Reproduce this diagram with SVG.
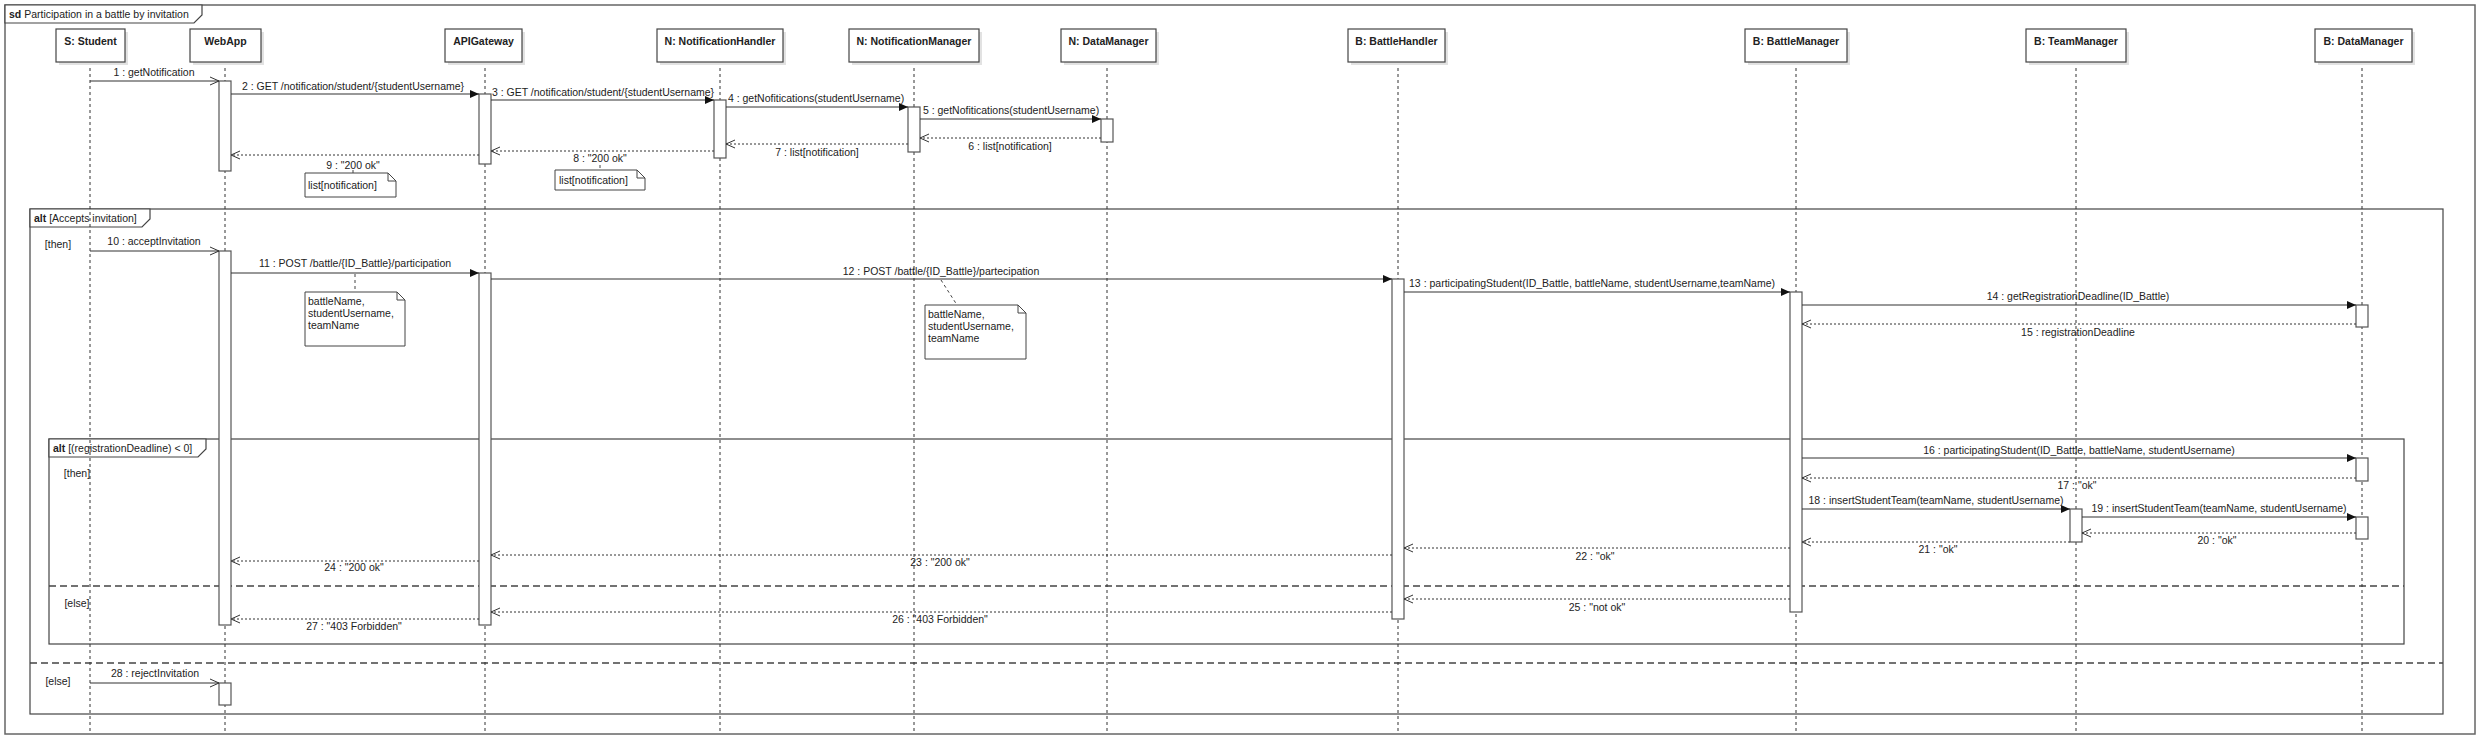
<svg xmlns="http://www.w3.org/2000/svg" width="2488" height="744" viewBox="0 0 2488 744">
<defs>
<style>
text{font-family:"Liberation Sans",Arial,sans-serif;font-size:10.5px;fill:#222}
.t{font-weight:bold;text-anchor:middle}
.m{text-anchor:middle}
.hd{fill:#fff;stroke:#444;stroke-width:1.2}
.sh{fill:#e2e2e2}
.ll{stroke:#333;stroke-width:1;stroke-dasharray:3,3;fill:none}
.act{fill:#fff;stroke:#555;stroke-width:1.2}
.sync{stroke:#333;stroke-width:1.2;fill:none;marker-end:url(#fa)}
.async{stroke:#333;stroke-width:1.2;fill:none;marker-end:url(#oa)}
.ret{stroke:#333;stroke-width:1;stroke-dasharray:2,2;fill:none;marker-end:url(#oa)}
.frm{fill:none;stroke:#444;stroke-width:1.2}
.tab{fill:#fff;stroke:#444;stroke-width:1.2}
.sep{stroke:#444;stroke-width:1.3;stroke-dasharray:7,4;fill:none}
.note{fill:#fff;stroke:#444;stroke-width:1}
.nc{stroke:#444;stroke-width:1;stroke-dasharray:3,3;fill:none}
</style>
<marker id="fa" markerWidth="10" markerHeight="10" refX="9" refY="4" orient="auto" markerUnits="userSpaceOnUse" overflow="visible"><path d="M0,0 L9,4 L0,8 Z" fill="#111"/></marker>
<marker id="oa" markerWidth="10" markerHeight="10" refX="9" refY="4" orient="auto" markerUnits="userSpaceOnUse" overflow="visible"><path d="M0,0 L9,4 L0,8" fill="none" stroke="#333" stroke-width="1"/></marker>
</defs>
<rect width="2488" height="744" fill="#fff"/>

<!-- outer sd frame -->
<g id="frame">
<rect x="5" y="5" width="2470" height="729" fill="none" stroke="#666" stroke-width="1.5"/>
<path class="tab" d="M5,5 H202 V15 L194,23 H5 Z"/>
<text x="9" y="17.5"><tspan font-weight="bold">sd</tspan> Participation in a battle by invitation</text>
</g>

<!-- combined fragments -->
<g id="alt-outer">
<rect class="frm" x="30" y="209" width="2413" height="505"/>
<path class="tab" d="M30,209 H150 V219 L142,227 H30 Z"/>
<text x="34" y="221.5"><tspan font-weight="bold">alt</tspan> [Accepts invitation]</text>
<text class="m" x="58" y="248">[then]</text>
<line class="sep" x1="30" y1="663" x2="2443" y2="663"/>
<text class="m" x="58" y="685">[else]</text>
</g>
<g id="alt-inner">
<rect class="frm" x="49" y="439" width="2355" height="205"/>
<path class="tab" d="M49,439 H206 V449 L198,457 H49 Z"/>
<text x="53" y="451.5"><tspan font-weight="bold">alt</tspan> [(registrationDeadline) &lt; 0]</text>
<text class="m" x="77" y="477">[then]</text>
<line class="sep" x1="49" y1="586" x2="2404" y2="586"/>
<text class="m" x="77" y="607">[else]</text>
</g>

<!-- lifelines -->
<g id="ll-student">
<line class="ll" x1="90" y1="62" x2="90" y2="733"/>
<rect class="sh" x="59" y="32" width="69" height="33"/>
<rect class="hd" x="56" y="29" width="69" height="33"/>
<text class="t" x="90.5" y="45">S: Student</text>
</g>
<g id="ll-webapp">
<line class="ll" x1="225" y1="62" x2="225" y2="733"/>
<rect class="sh" x="193" y="32" width="71" height="33"/>
<rect class="hd" x="190" y="29" width="71" height="33"/>
<text class="t" x="225.5" y="45">WebApp</text>
<rect class="act" x="219" y="81" width="12" height="90"/>
<rect class="act" x="219" y="251" width="12" height="374"/>
<rect class="act" x="219" y="683" width="12" height="22"/>
</g>
<g id="ll-apigateway">
<line class="ll" x1="485" y1="62" x2="485" y2="733"/>
<rect class="sh" x="448" y="32" width="77" height="33"/>
<rect class="hd" x="445" y="29" width="77" height="33"/>
<text class="t" x="483.5" y="45">APIGateway</text>
<rect class="act" x="479" y="94" width="12" height="70"/>
<rect class="act" x="479" y="273" width="12" height="352"/>
</g>
<g id="ll-nhandler">
<line class="ll" x1="720" y1="62" x2="720" y2="733"/>
<rect class="sh" x="660" y="32" width="126" height="33"/>
<rect class="hd" x="657" y="29" width="126" height="33"/>
<text class="t" x="720" y="45">N: NotificationHandler</text>
<rect class="act" x="714" y="100" width="12" height="58"/>
</g>
<g id="ll-nmanager">
<line class="ll" x1="914" y1="62" x2="914" y2="733"/>
<rect class="sh" x="852" y="32" width="130" height="33"/>
<rect class="hd" x="849" y="29" width="130" height="33"/>
<text class="t" x="914" y="45">N: NotificationManager</text>
<rect class="act" x="908" y="107" width="12" height="45"/>
</g>
<g id="ll-ndata">
<line class="ll" x1="1107" y1="62" x2="1107" y2="733"/>
<rect class="sh" x="1064" y="32" width="95" height="33"/>
<rect class="hd" x="1061" y="29" width="95" height="33"/>
<text class="t" x="1108.5" y="45">N: DataManager</text>
<rect class="act" x="1101" y="119" width="12" height="23"/>
</g>
<g id="ll-bhandler">
<line class="ll" x1="1398" y1="62" x2="1398" y2="733"/>
<rect class="sh" x="1351" y="32" width="97" height="33"/>
<rect class="hd" x="1348" y="29" width="97" height="33"/>
<text class="t" x="1396.5" y="45">B: BattleHandler</text>
<rect class="act" x="1392" y="279" width="12" height="340"/>
</g>
<g id="ll-bmanager">
<line class="ll" x1="1796" y1="62" x2="1796" y2="733"/>
<rect class="sh" x="1748" y="32" width="102" height="33"/>
<rect class="hd" x="1745" y="29" width="102" height="33"/>
<text class="t" x="1796" y="45">B: BattleManager</text>
<rect class="act" x="1790" y="292" width="12" height="320"/>
</g>
<g id="ll-tmanager">
<line class="ll" x1="2076" y1="62" x2="2076" y2="733"/>
<rect class="sh" x="2029" y="32" width="100" height="33"/>
<rect class="hd" x="2026" y="29" width="100" height="33"/>
<text class="t" x="2076" y="45">B: TeamManager</text>
<rect class="act" x="2070" y="509" width="12" height="33"/>
</g>
<g id="ll-bdata">
<line class="ll" x1="2362" y1="62" x2="2362" y2="733"/>
<rect class="sh" x="2318" y="32" width="97" height="33"/>
<rect class="hd" x="2315" y="29" width="97" height="33"/>
<text class="t" x="2363.5" y="45">B: DataManager</text>
<rect class="act" x="2356" y="305" width="12" height="22"/>
<rect class="act" x="2356" y="458" width="12" height="23"/>
<rect class="act" x="2356" y="517" width="12" height="22"/>
</g>

<!-- notes -->
<g id="note1">
<line class="nc" x1="353" y1="170" x2="353" y2="173"/>
<path class="note" d="M305,173 H388 L396,181 V197 H305 Z M388,173 V181 H396"/>
<text x="308" y="189">list[notification]</text>
</g>
<g id="note2">
<line class="nc" x1="600" y1="165" x2="600" y2="170"/>
<path class="note" d="M555,170 H637 L645,178 V190 H555 Z M637,170 V178 H645"/>
<text x="559" y="184">list[notification]</text>
</g>
<g id="note3">
<line class="nc" x1="355" y1="274" x2="355" y2="292"/>
<path class="note" d="M305,292 H397 L405,300 V346 H305 Z M397,292 V300 H405"/>
<text x="308" y="305"> battleName,</text>
<text x="308" y="317">studentUsername,</text>
<text x="308" y="329">teamName</text>
</g>
<g id="note4">
<line class="nc" x1="941" y1="280" x2="957" y2="305"/>
<path class="note" d="M925,305 H1018 L1026,313 V359 H925 Z M1018,305 V313 H1026"/>
<text x="928" y="318"> battleName,</text>
<text x="928" y="330">studentUsername,</text>
<text x="928" y="342">teamName</text>
</g>

<!-- connectors -->
<g id="messages">
<line class="async" x1="90" y1="81" x2="219" y2="81"/>
<text class="m" x="154" y="76">1 : getNotification</text>
<line class="sync" x1="231" y1="94" x2="479" y2="94"/>
<text class="m" x="353" y="90">2 : GET /notification/student/{studentUsername}</text>
<line class="sync" x1="491" y1="100" x2="714" y2="100"/>
<text class="m" x="603" y="95.5">3 : GET /notification/student/{studentUsername}</text>
<line class="sync" x1="726" y1="107" x2="908" y2="107"/>
<text class="m" x="816" y="102">4 : getNofitications(studentUsername)</text>
<line class="sync" x1="920" y1="119" x2="1101" y2="119"/>
<text class="m" x="1011" y="114">5 : getNofitications(studentUsername)</text>
<line class="ret" x1="1101" y1="138" x2="920" y2="138"/>
<text class="m" x="1010" y="150">6 : list[notification]</text>
<line class="ret" x1="908" y1="144" x2="726" y2="144"/>
<text class="m" x="817" y="156">7 : list[notification]</text>
<line class="ret" x1="714" y1="151" x2="491" y2="151"/>
<text class="m" x="600" y="162">8 : "200 ok"</text>
<line class="ret" x1="479" y1="155" x2="231" y2="155"/>
<text class="m" x="353" y="169">9 : "200 ok"</text>

<line class="async" x1="90" y1="251" x2="219" y2="251"/>
<text class="m" x="154" y="245">10 : acceptInvitation</text>
<line class="sync" x1="231" y1="273" x2="479" y2="273"/>
<text class="m" x="355" y="267">11 : POST /battle/{ID_Battle}/participation</text>
<line class="sync" x1="491" y1="279" x2="1392" y2="279"/>
<text class="m" x="941" y="275">12 : POST /battle/{ID_Battle}/partecipation</text>
<line class="sync" x1="1404" y1="292" x2="1790" y2="292"/>
<text class="m" x="1592" y="287">13 : participatingStudent(ID_Battle, battleName, studentUsername,teamName)</text>
<line class="sync" x1="1802" y1="305" x2="2356" y2="305"/>
<text class="m" x="2078" y="300">14 : getRegistrationDeadline(ID_Battle)</text>
<line class="ret" x1="2356" y1="324" x2="1802" y2="324"/>
<text class="m" x="2078" y="336">15 : registrationDeadline</text>

<line class="sync" x1="1802" y1="458" x2="2356" y2="458"/>
<text class="m" x="2079" y="454">16 : participatingStudent(ID_Battle, battleName, studentUsername)</text>
<line class="ret" x1="2356" y1="478" x2="1802" y2="478"/>
<text class="m" x="2077" y="489">17 : "ok"</text>
<line class="sync" x1="1802" y1="509" x2="2070" y2="509"/>
<text class="m" x="1936" y="504">18 : insertStudentTeam(teamName, studentUsername)</text>
<line class="sync" x1="2082" y1="517" x2="2356" y2="517"/>
<text class="m" x="2219" y="512">19 : insertStudentTeam(teamName, studentUsername)</text>
<line class="ret" x1="2356" y1="533" x2="2082" y2="533"/>
<text class="m" x="2217" y="544">20 : "ok"</text>
<line class="ret" x1="2070" y1="542" x2="1802" y2="542"/>
<text class="m" x="1938" y="553">21 : "ok"</text>
<line class="ret" x1="1790" y1="548" x2="1404" y2="548"/>
<text class="m" x="1595" y="560">22 : "ok"</text>
<line class="ret" x1="1392" y1="555" x2="491" y2="555"/>
<text class="m" x="940" y="566">23 : "200 ok"</text>
<line class="ret" x1="479" y1="561" x2="231" y2="561"/>
<text class="m" x="354" y="571">24 : "200 ok"</text>
<line class="ret" x1="1790" y1="599" x2="1404" y2="599"/>
<text class="m" x="1597" y="611">25 : "not ok"</text>
<line class="ret" x1="1392" y1="612" x2="491" y2="612"/>
<text class="m" x="940" y="623">26 : "403 Forbidden"</text>
<line class="ret" x1="479" y1="619" x2="231" y2="619"/>
<text class="m" x="354" y="630">27 : "403 Forbidden"</text>

<line class="async" x1="90" y1="683" x2="219" y2="683"/>
<text class="m" x="155" y="677">28 : rejectInvitation</text>
</g>
</svg>
